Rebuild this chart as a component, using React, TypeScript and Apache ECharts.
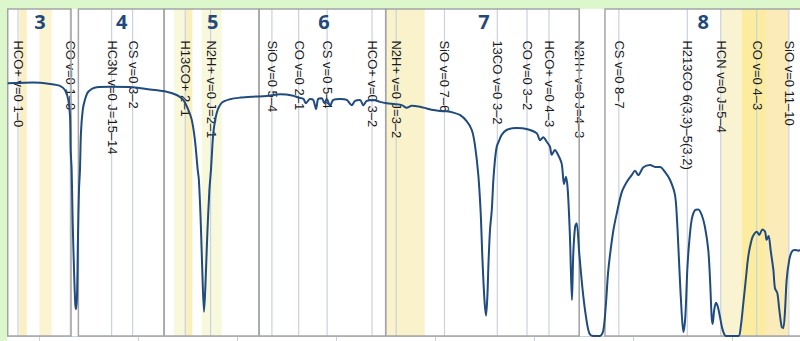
import { useEffect, useRef } from "react";
import * as echarts from "echarts";

// Atmospheric transmission (fraction) against sky frequency (GHz)
const freqGHz = [
  84.0, 90.2, 96.8, 105.4, 110.4, 112.9, 114.6, 115.5, 115.8, 116.3, 116.8, 117.5, 118.1, 118.5, 119.0, 119.5,
  120.0, 120.5, 121.0, 121.9, 123.0, 124.7, 129.0, 135.7, 147.3, 155.9, 164.3, 169.4, 172.7, 175.3, 177.0, 178.6,
  180.0, 180.6, 181.5, 182.3, 183.2, 184.0, 184.8, 185.9, 186.7, 187.1, 187.9, 189.6, 192.1, 196.3, 201.4, 208.0,
  214.9, 221.6, 228.3, 230.8, 233.4, 234.7, 236.7, 238.4, 239.8, 240.9, 242.7, 244.0, 245.2, 246.9, 248.5, 251.9,
  255.3, 257.8, 259.5, 262.0, 263.7, 265.4, 268.7, 272.1, 275.5, 279.7, 283.1, 285.6, 288.1, 292.3, 295.7, 299.1,
  302.4, 305.8, 309.2, 312.5, 315.9, 318.5, 320.1, 321.8, 323.0, 323.9, 324.9, 325.7, 326.4, 326.9, 327.7, 328.6,
  329.4, 330.2, 331.1, 332.4, 333.6, 336.1, 341.2, 346.2, 351.3, 353.0, 354.6, 356.4, 358.0, 358.9, 360.5, 361.7,
  363.9, 365.1, 366.1, 367.0, 368.1, 369.1, 369.8, 370.7, 371.5, 372.8, 374.5, 376.2, 377.9, 379.9, 383.3, 385.0,
  386.3, 387.5, 389.9, 391.9, 394.3, 396.8, 399.3, 401.0, 402.6, 405.2, 408.6, 411.1, 413.6, 416.1, 418.7, 421.2,
  422.2, 423.2, 424.2, 425.4, 426.4, 427.4, 428.3, 429.6, 431.3, 433.0, 434.7, 436.3, 438.0, 438.9, 439.7, 440.2,
  441.0, 441.9, 442.8, 443.9, 445.3, 447.0, 453.2, 454.4, 455.7, 457.1, 458.2, 459.9, 461.1, 462.5, 463.8, 465.3,
  466.7, 467.5, 468.5, 469.5, 470.9, 471.7, 472.9, 473.9, 475.1, 475.9, 476.8, 477.6, 478.9, 480.2, 481.8, 483.5,
  484.4,
];
const transmission = [
  0.773, 0.774, 0.775, 0.771, 0.765, 0.752, 0.722, 0.671, 0.569, 0.508, 0.355, 0.202, 0.101, 0.082, 0.12, 0.304,
  0.446, 0.508, 0.621, 0.691, 0.722, 0.747, 0.761, 0.762, 0.761, 0.754, 0.747, 0.737, 0.722, 0.691, 0.661, 0.599,
  0.508, 0.477, 0.355, 0.202, 0.074, 0.171, 0.304, 0.446, 0.508, 0.548, 0.621, 0.682, 0.713, 0.724, 0.729, 0.732,
  0.734, 0.739, 0.735, 0.729, 0.725, 0.712, 0.725, 0.722, 0.694, 0.725, 0.727, 0.712, 0.725, 0.704, 0.722, 0.725,
  0.722, 0.706, 0.719, 0.722, 0.706, 0.719, 0.722, 0.716, 0.712, 0.709, 0.706, 0.698, 0.704, 0.701, 0.696, 0.691,
  0.688, 0.687, 0.683, 0.676, 0.657, 0.63, 0.584, 0.492, 0.376, 0.232, 0.11, 0.062, 0.125, 0.217, 0.324, 0.385,
  0.477, 0.538, 0.579, 0.599, 0.615, 0.63, 0.636, 0.633, 0.62, 0.599, 0.608, 0.594, 0.579, 0.554, 0.569, 0.559,
  0.528, 0.465, 0.487, 0.446, 0.304, 0.11, 0.254, 0.334, 0.345, 0.253, 0.141, 0.059, 0.008, 0.0, 0.0, 0.018,
  0.1, 0.202, 0.318, 0.379, 0.44, 0.471, 0.492, 0.505, 0.492, 0.516, 0.523, 0.517, 0.517, 0.502, 0.477, 0.431,
  0.355, 0.232, 0.11, 0.012, 0.059, 0.202, 0.283, 0.355, 0.385, 0.387, 0.37, 0.334, 0.263, 0.171, 0.059, 0.037,
  0.08, 0.102, 0.09, 0.059, 0.018, 0.0, 0.0, 0.028, 0.1, 0.181, 0.243, 0.294, 0.311, 0.319, 0.309, 0.326,
  0.319, 0.294, 0.306, 0.263, 0.202, 0.146, 0.131, 0.08, 0.028, 0.024, 0.08, 0.171, 0.232, 0.258, 0.263, 0.261,
  0.263,
];

// Receiver bands
const bandNames = ["3", "4", "5", "6", "7", "8"];
const bandStartGHz = [84.0, 119.7, 163.0, 211.0, 275.0, 385.8];
const bandEndGHz = [116.0, 163.0, 211.0, 275.0, 372.8, 500.0];
const bandLabelGHz = [100.3, 141.6, 187.6, 243.8, 324.7, 435.5];

// Spectral lines of interest
const lineNames = [
  "HCO+ v=0 1–0", "CO v=0 1–0", "HC3N v=0 J=15–14", "CS v=0 3–2", "H13CO+ 2–1", "N2H+ v=0 J=2–1",
  "SiO v=0 5–4", "CO v=0 2–1", "CS v=0 5–4", "HCO+ v=0 3–2", "N2H+ v=0 J=3–2", "SiO v=0 7–6",
  "13CO v=0 3–2", "CO v=0 3–2", "HCO+ v=0 4–3", "N2H+ v=0 J=4–3", "CS v=0 8–7", "H213CO 6(3,3)–5(3,2)",
  "HCN v=0 J=5–4", "CO v=0 4–3", "SiO v=0 11–10",
];
const lineGHz = [
  89.2, 115.6, 136.5, 147.1, 173.7, 186.5, 217.5, 231.0, 245.4, 268.1, 280.3, 304.7,
  331.4, 346.4, 357.5, 372.8, 392.8, 427.4, 444.3, 462.5, 478.7,
];

// Tuned sidebands / spectral windows
const windowStartGHz = [89.85, 100.0, 168.0, 173.9, 182.0, 275.5, 443.9, 455.0, 467.1];
const windowEndGHz = [93.6, 106.2, 173.9, 177.3, 192.1, 294.7, 455.0, 467.1, 478.4];
const windowColors = [
  "#fbefc3", "#fcf3d1", "#f8f8dc", "#f9efbf", "#f8f8dc", "#f9f2cb", "#faf3d1", "#fbec9f", "#faebb9",
];

const tickGHz = [100, 150, 200, 250, 300, 350, 400, 450];

export default function App() {
  const ref = useRef<HTMLDivElement>(null);

  useEffect(() => {
    const chart = echarts.init(ref.current!, null, { renderer: "svg" });

    chart.setOption({
      animation: false,
      backgroundColor: "#dbf7cb",
      graphic: [
        {
          type: "rect",
          left: 7,
          top: 9,
          z: -10,
          silent: true,
          shape: { width: 793, height: 332 },
          style: { fill: "#ffffff" },
        },
      ],
      grid: { left: 7.73, right: 0, top: 9, bottom: 5 },
      xAxis: {
        type: "value",
        min: 84,
        max: 484.35,
        axisLine: { show: true, onZero: false, lineStyle: { color: "#c6d0de", width: 1 } },
        axisTick: { show: true, customValues: tickGHz, length: 5, lineStyle: { color: "#c6d0de" } },
        axisLabel: { show: false },
        splitLine: { show: false },
      },
      yAxis: { type: "value", min: 0, max: 1, show: false },
      series: [
        {
          type: "custom",
          name: "windows",
          silent: true,
          z: 1,
          clip: true,
          data: windowStartGHz.map((s, i) => [s, windowEndGHz[i], i]),
          renderItem: (_params: any, api: any) => {
            const a = api.coord([api.value(0), 1]);
            const b = api.coord([api.value(1), 0]);
            return {
              type: "rect",
              shape: { x: a[0], y: a[1], width: b[0] - a[0], height: b[1] - a[1] },
              style: { fill: windowColors[api.value(2)] },
            };
          },
        },
        {
          type: "custom",
          name: "lines",
          silent: true,
          z: 2,
          data: lineGHz.map((f, i) => [f, i]),
          renderItem: (_params: any, api: any) => {
            const f = api.value(0);
            const top = api.coord([f, 1]);
            const bottom = api.coord([f, 0]);
            const lab = api.coord([f, 0.904]);
            return {
              type: "group",
              children: [
                {
                  type: "line",
                  shape: { x1: top[0], y1: top[1], x2: bottom[0], y2: bottom[1] },
                  style: { stroke: "#c9d2de", lineWidth: 1.2 },
                },
                {
                  type: "text",
                  x: lab[0] + 0.5,
                  y: lab[1],
                  rotation: -Math.PI / 2,
                  style: {
                    text: lineNames[api.value(1)],
                    fill: "#1a1a1a",
                    fontSize: 13,
                    fontFamily: "Liberation Sans, Arial, sans-serif",
                    align: "left",
                    verticalAlign: "middle",
                  },
                },
              ],
            };
          },
        },
        {
          type: "custom",
          name: "bands",
          silent: true,
          z: 3,
          data: bandStartGHz.map((s, i) => [s, bandEndGHz[i], bandLabelGHz[i], i]),
          renderItem: (_params: any, api: any) => {
            const a = api.coord([api.value(0), 1]);
            const b = api.coord([api.value(1), 0]);
            const c = api.coord([api.value(2), 0.961]);
            return {
              type: "group",
              children: [
                {
                  type: "rect",
                  shape: { x: a[0], y: a[1], width: b[0] - a[0], height: b[1] - a[1] },
                  style: { fill: "none", stroke: "#a5a5a5", lineWidth: 1.5 },
                },
                {
                  type: "text",
                  x: c[0],
                  y: c[1],
                  style: {
                    text: bandNames[api.value(3)],
                    fill: "#23497b",
                    fontSize: 20,
                    fontWeight: "bold",
                    fontFamily: "Open Sans, Liberation Sans, sans-serif",
                    align: "center",
                    verticalAlign: "middle",
                  },
                },
              ],
            };
          },
        },
        {
          type: "line",
          name: "transmission",
          z: 5,
          silent: true,
          showSymbol: false,
          symbol: "none",
          smooth: 0.3,
          clip: true,
          lineStyle: { color: "#1f4b7e", width: 2 },
          data: freqGHz.map((f, i) => [f, transmission[i]]),
        },
      ],
    });

    return () => chart.dispose();
  }, []);

  return <div ref={ref} style={{ position: "fixed", left: 0, top: 0, width: 800, height: 341 }} />;
}
